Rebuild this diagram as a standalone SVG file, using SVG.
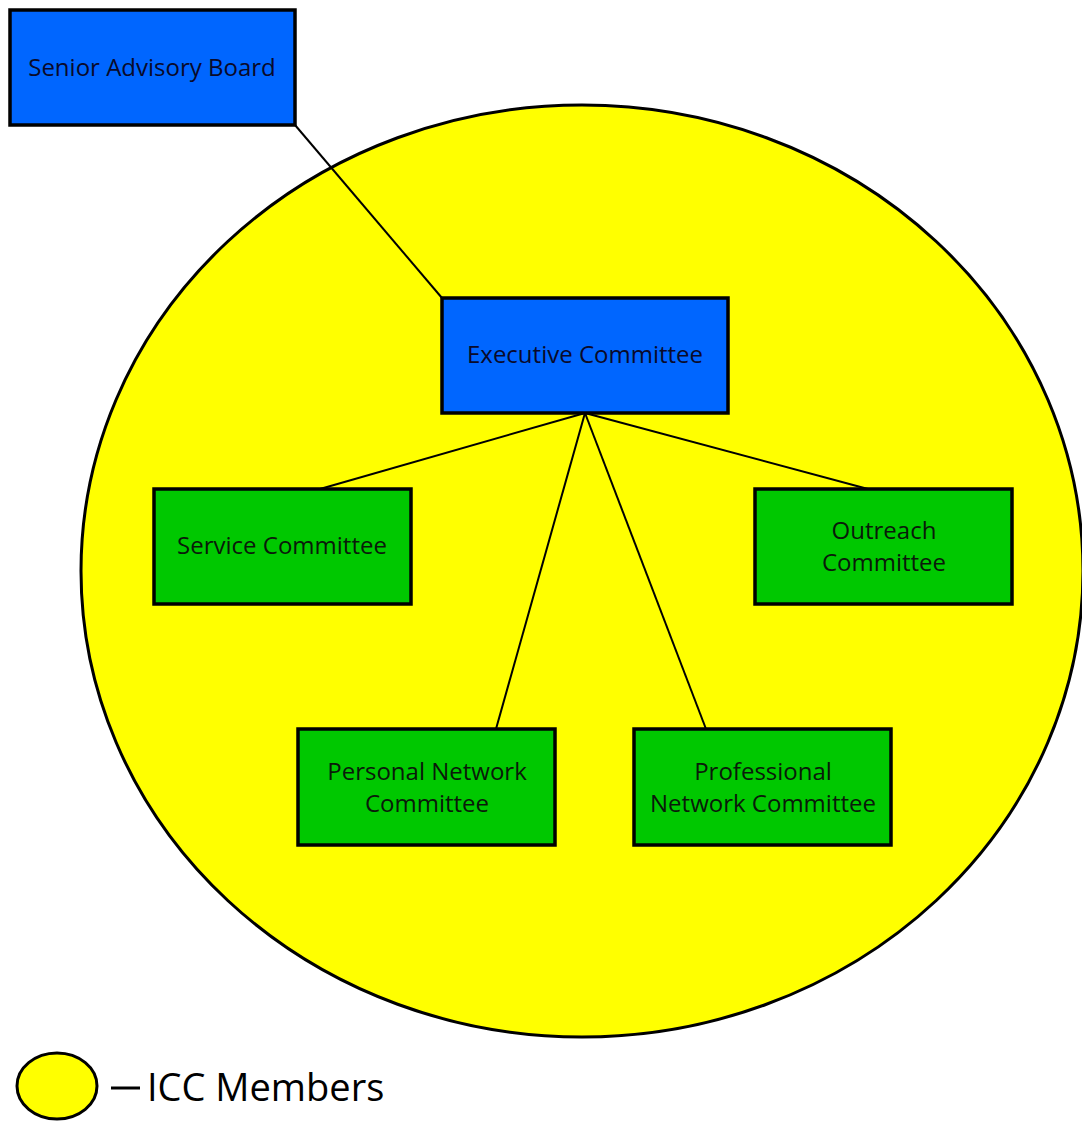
<svg xmlns="http://www.w3.org/2000/svg" width="1082" height="1126" viewBox="0 0 1082 1126">
<style>
.box{stroke:#000;stroke-width:3.5}
.blue{fill:#0066ff}
.green{fill:#00c800}
.t{font-family:"Open Sans","Noto Sans",sans-serif;font-size:24px;fill:#0a0a2a;text-anchor:middle}
.g{fill:#0a1a0a}
.conn{stroke:#000;stroke-width:2;fill:none}
</style>
<rect width="1082" height="1126" fill="#fff"/>
<g id="members-circle">
<ellipse cx="582" cy="571" rx="501" ry="466" fill="#ffff00" stroke="#000" stroke-width="3"/>
</g>
<g id="connectors">
<line class="conn" x1="295" y1="125" x2="442" y2="298"/>
<line class="conn" x1="585" y1="413" x2="320" y2="489"/>
<line class="conn" x1="585" y1="413" x2="868" y2="489"/>
<line class="conn" x1="585" y1="413" x2="496" y2="729"/>
<line class="conn" x1="585" y1="413" x2="706" y2="729"/>
</g>
<g id="senior-advisory-board">
<rect class="box blue" x="10" y="10" width="285" height="115"/>
<text class="t" x="152" y="76">Senior Advisory Board</text>
</g>
<g id="executive-committee">
<rect class="box blue" x="442" y="298" width="286" height="115"/>
<text class="t" x="585" y="363">Executive Committee</text>
</g>
<g id="service-committee">
<rect class="box green" x="154" y="489" width="257" height="115"/>
<text class="t g" x="282" y="554">Service Committee</text>
</g>
<g id="outreach-committee">
<rect class="box green" x="755" y="489" width="257" height="115"/>
<text class="t g" x="884" y="539">Outreach</text>
<text class="t g" x="884" y="571">Committee</text>
</g>
<g id="personal-network-committee">
<rect class="box green" x="298" y="729" width="257" height="116"/>
<text class="t g" x="427" y="780">Personal Network</text>
<text class="t g" x="427" y="812">Committee</text>
</g>
<g id="professional-network-committee">
<rect class="box green" x="634" y="729" width="257" height="116"/>
<text class="t g" x="763" y="780">Professional</text>
<text class="t g" x="763" y="812">Network Committee</text>
</g>
<g id="legend">
<ellipse cx="57" cy="1086" rx="40" ry="33" fill="#ffff00" stroke="#000" stroke-width="3"/>
<line x1="111" y1="1088" x2="140" y2="1088" stroke="#000" stroke-width="3"/>
<text x="147" y="1101" font-family="'Open Sans','Noto Sans',sans-serif" font-size="38" fill="#000">ICC Members</text>
</g>
</svg>
